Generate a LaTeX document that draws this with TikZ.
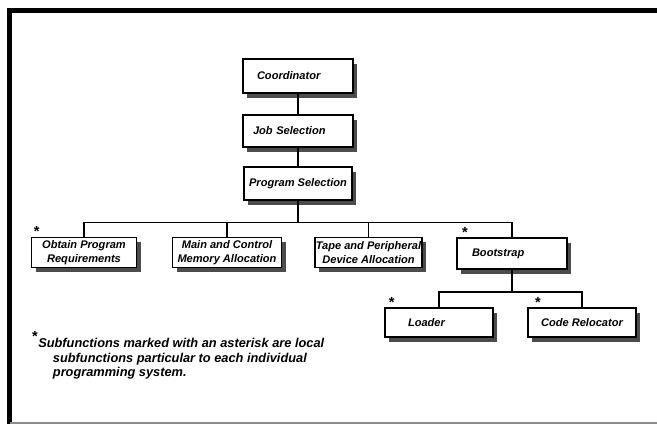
\documentclass[tikz,border=0pt]{standalone}
\usepackage{fontspec}
\setmainfont{Liberation Sans}
\usepackage{tikz}
\usetikzlibrary{shadows}

\begin{document}
\begin{tikzpicture}[x=0.75pt, y=-0.75pt,
  unit/.style={draw, line width=1pt, fill=white, align=center, inner sep=0pt,
    font=\bfseries\itshape\fontsize{8.3}{10}\selectfont,
    drop shadow={shadow xshift=3pt, shadow yshift=-3.5pt, fill=black!70, opacity=1}},
  link/.style={line width=1.1pt},
  starmark/.style={font=\bfseries\fontsize{11}{11}\selectfont, inner sep=0pt, anchor=north},
  note/.style={font=\bfseries\itshape\fontsize{9.6}{11}\selectfont, align=left, inner sep=0pt, anchor=north west}]
\useasboundingbox (0,0) rectangle (657,424);

% Frame
\draw[line width=3.5pt] (9.5,424) -- (9.5,10.5) -- (657,10.5);
\draw[black!45, line width=1.5pt] (9.5,422.5) -- (657,422.5);

% Top chain
\node[unit, minimum height=25.5pt, text width=61.5pt, align=left, inner xsep=10.5pt] (coord) at (298,76) {Coordinator};
\node[unit, minimum height=24pt, text width=67.5pt, align=left, inner xsep=7.5pt] (job) at (298,131) {Job Selection};
\node[unit, minimum width=81pt, minimum height=24.75pt] (prog) at (298,183.5) {Program Selection};

% Subfunctions
\node[unit, minimum width=78.75pt, minimum height=22.5pt] (obtain) at (84,252.5) {Obtain Program\\Requirements};
\node[unit, minimum width=81.75pt, minimum height=22.5pt] (memalloc) at (227,252.5) {Main and Control\\Memory Allocation};
\node[unit, minimum width=80.25pt, minimum height=22.5pt] (tape) at (368.5,252.5) {Tape and Peripheral\\Device Allocation};
\node[unit, minimum height=23.25pt, text width=60pt, align=left, inner xsep=11.25pt] (boot) at (512,253.5) {Bootstrap};
\node[unit, minimum height=21.75pt, text width=46.5pt, align=left, inner xsep=17.25pt] (loader) at (439,322.5) {Loader};
\node[unit, minimum width=81pt, minimum height=21.75pt] (reloc) at (582,322.5) {Code Relocator};

% Links
\draw[link] (coord) -- (job);
\draw[link] (job) -- (prog);
\foreach \k in {obtain,memalloc,tape,boot}
  \draw[link] (prog.south) -- ++(0,22) -| (\k.north);
\foreach \k in {loader,reloc}
  \draw[link] (boot.south) -- ++(0,22.5) -| (\k.north);

% Asterisks
\node[starmark] (s1) at (36.7,226) {*};
\node[starmark] (s2) at (465,227.5) {*};
\node[starmark] (s3) at (391.7,297.5) {*};
\node[starmark] (s4) at (538,297.5) {*};
\node[starmark] (s5) at (35,331.5) {*};

% Footnote
\node[note] (foot) at (38,338) {Subfunctions marked with an asterisk are local\\
  \hspace*{11pt}subfunctions particular to each individual\\
  \hspace*{11pt}programming system.};
\end{tikzpicture}
\end{document}
